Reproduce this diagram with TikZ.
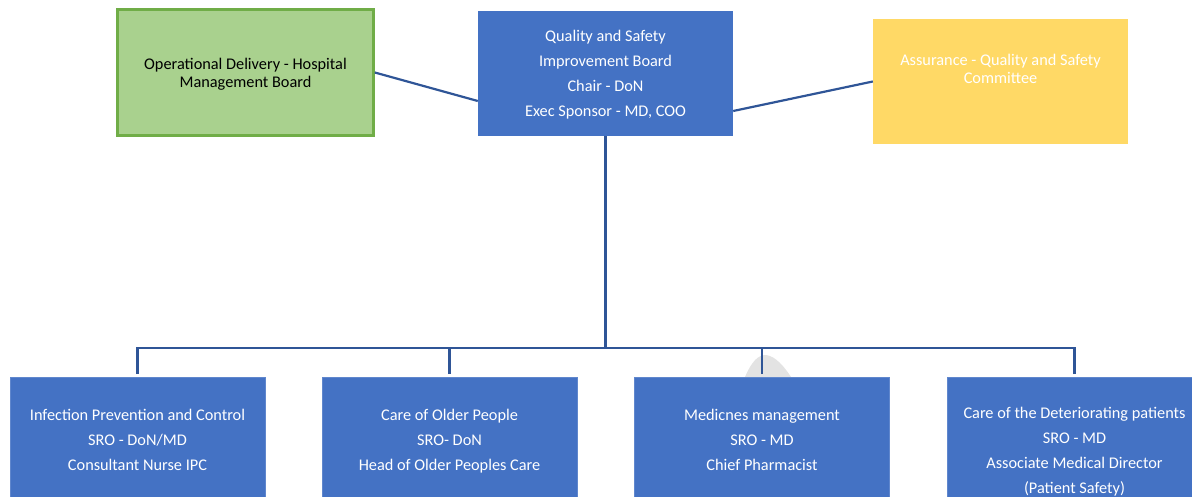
\documentclass[tikz,border=0pt]{standalone}
\usepackage{fontspec}
\setmainfont{Carlito}
\definecolor{boardblue}{HTML}{4472C4}
\definecolor{linkblue}{HTML}{2F5597}
\definecolor{opgreen}{HTML}{A9D18E}
\definecolor{opgreenline}{HTML}{70AD47}
\definecolor{assuryellow}{HTML}{FFD966}
\tikzset{
  box/.style={rectangle, minimum width=255pt, inner sep=0pt},
  bluebox/.style={box, fill=boardblue, draw=boardblue!85!white, line width=0.6pt},
  boxtext/.style={align=center, inner sep=0pt, font=\fontsize{16.3}{25}\selectfont},
  link/.style={draw=linkblue, line width=2.2pt}
}
\begin{document}
\begin{tikzpicture}[x=1pt,y=-1pt]
  \useasboundingbox (0,0) rectangle (1192,497);

  % top row
  \node[box, minimum width=256pt, minimum height=126pt, fill=opgreen, draw=opgreenline, line width=2.6pt] at (245.5,72.5) (opd) {};
  \node[align=center, inner sep=0pt, font=\fontsize{16.3}{18}\selectfont]
        at ([yshift=-2pt]opd.center) (opdtext) {Operational Delivery - Hospital\\Management Board};
  \node[box, minimum height=125pt, fill=boardblue] at (605.5,73.5) (qsib) {};
  \node[boxtext, text=white] at ([yshift=-1.5pt]qsib.center) (qsibtext)
        {Quality and Safety\\Improvement Board\\Chair - DoN\\Exec Sponsor - MD, COO};
  \node[box, minimum height=125pt, fill=assuryellow] at (1000.5,81.5) (qsc) {};
  \node[text=white, align=center, inner sep=0pt, font=\fontsize{16.3}{18}\selectfont]
        at ([yshift=-50pt]qsc.north) (qsctext) {Assurance - Quality and Safety\\Committee};

  \draw[link] (opd.east) -- ([yshift=-27.5pt]qsib.west);
  \draw[link] ([yshift=-37.5pt]qsib.east) -- (qsc.west);

  % faint shape behind the medicines box
  \fill[gray!22] (745,377) .. controls (752,361) and (758,355) .. (766,355)
        .. controls (775,356) and (784,366) .. (791,377) -- cycle;

  % workstreams
  \node[bluebox, minimum height=150pt, anchor=north] at (137.5,377) (ipc) {};
  \node[bluebox, minimum height=150pt, anchor=north] at (449.5,377) (older) {};
  \node[bluebox, minimum height=150pt, anchor=north] at (762,377) (meds) {};
  \node[bluebox, minimum height=150pt, anchor=north] at (1074.5,377) (det) {};

  \node[boxtext, text=white] at ([yshift=-63pt]ipc.north) (ipctext)
        {Infection Prevention and Control\\SRO - DoN/MD\\Consultant Nurse IPC};
  \node[boxtext, text=white] at ([yshift=-64pt]older.north) (oldertext)
        {Care of Older People\\SRO- DoN\\Head of Older Peoples Care};
  \node[boxtext, text=white] at ([yshift=-63pt]meds.north) (medstext)
        {Medicnes management\\SRO - MD\\Chief Pharmacist};
  \node[boxtext, text=white] at ([yshift=-75pt]det.north) (dettext)
        {Care of the Deteriorating patients\\SRO - MD\\Associate Medical Director\\(Patient Safety)};

  \coordinate (bus) at (605.5,348);
  \draw[link] (qsib.south) -- (bus);
  \foreach \ws in {ipc,older,meds,det}
    \draw[link, shorten <=3pt] (\ws.north) |- (bus);
\end{tikzpicture}
\end{document}
